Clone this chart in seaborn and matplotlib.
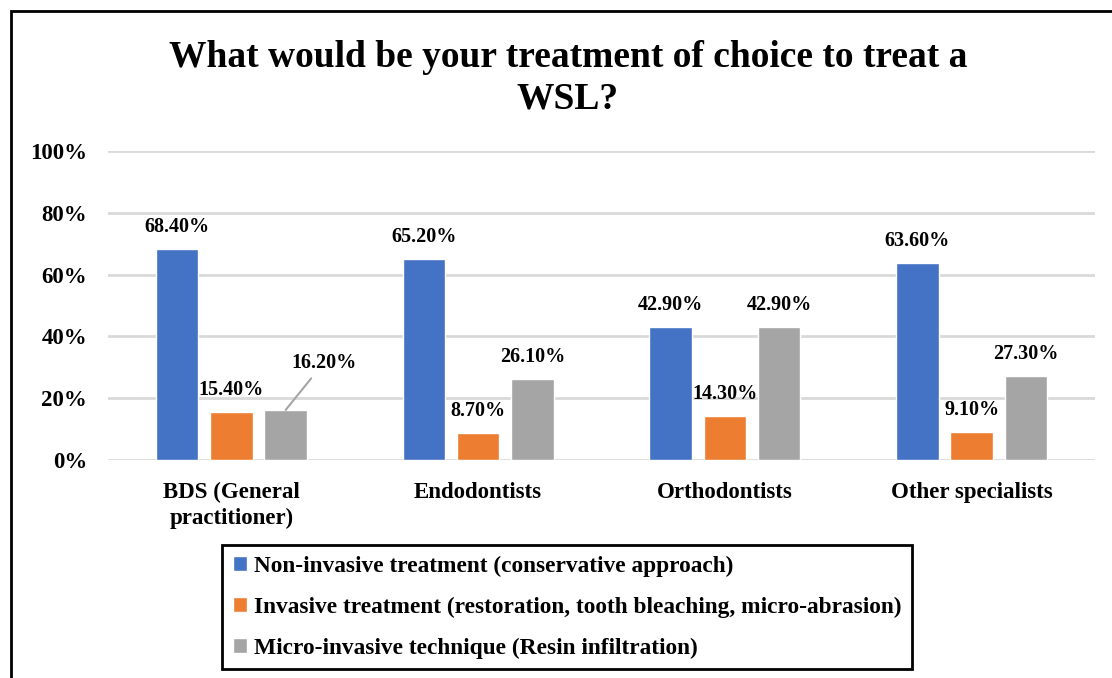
import matplotlib
matplotlib.use("Agg")
import matplotlib.pyplot as plt
import seaborn as sns
import pandas as pd
from matplotlib.patches import Rectangle
from matplotlib.ticker import FuncFormatter

categories = ["BDS (General\npractitioner)", "Endodontists", "Orthodontists", "Other specialists"]
series_names = [
    "Non-invasive treatment (conservative approach)",
    "Invasive treatment (restoration, tooth bleaching, micro-abrasion)",
    "Micro-invasive technique (Resin infiltration)",
]
non_invasive = [68.4, 65.2, 42.9, 63.6]
invasive = [15.4, 8.7, 14.3, 9.1]
micro_invasive = [16.2, 26.1, 42.9, 27.3]
colors = ["#4472C4", "#ED7D31", "#A5A5A5"]
title = "What would be your treatment of choice to treat a\nWSL?"

rows = []
for name, vals in zip(series_names, [non_invasive, invasive, micro_invasive]):
    for c, v in zip(categories, vals):
        rows.append({"Category": c, "Series": name, "Value": v})
df = pd.DataFrame(rows)

sns.set_style("white")
plt.rcParams["font.family"] = ["Liberation Serif", "DejaVu Serif"]
plt.rcParams["font.weight"] = "bold"
plt.rcParams["text.color"] = "black"
plt.rcParams["xtick.color"] = "black"
plt.rcParams["ytick.color"] = "black"

W, H = 1112, 678
fig = plt.figure(figsize=(W / 100, H / 100), dpi=100)
ax = fig.add_axes([108 / W, 1 - 460 / H, (1095 - 108) / W, 309 / H])

sns.barplot(data=df, x="Category", y="Value", hue="Series", hue_order=series_names,
            order=categories, palette=colors, width=0.66, gap=0.22, saturation=1,
            ax=ax, legend=True)

ax.set_ylim(0, 100)
ax.set_xlim(-0.5, 3.5)
ax.set_yticks([0, 20, 40, 60, 80, 100])
ax.yaxis.set_major_formatter(FuncFormatter(lambda v, p: f"{v:.0f}%"))
ax.yaxis.grid(True, color="#D9D9D9", linewidth=2)
ax.set_axisbelow(True)
for s in ax.spines.values():
    s.set_visible(False)
ax.tick_params(axis="both", length=0, labelsize=16.5, labelcolor="black")
ax.tick_params(axis="y", pad=15)
ax.tick_params(axis="x", pad=16)
for lab in ax.get_xticklabels() + ax.get_yticklabels():
    lab.set_fontweight("bold")
for lab in ax.get_xticklabels():
    lab.set_linespacing(1.3)
ax.set_xlabel("")
ax.set_ylabel("")

for si, cont in enumerate(ax.containers):
    for bi, bar in enumerate(cont):
        v = bar.get_height()
        x = bar.get_x() + bar.get_width() / 2
        label = f"{v:.2f}%"
        if si == 2 and bi == 0:
            ax.annotate(label, xy=(x, v), xytext=(38, 47), textcoords="offset pixels",
                        ha="center", va="center", fontsize=14.5, fontweight="bold",
                        color="black",
                        arrowprops=dict(arrowstyle="-", color="#A5A5A5", lw=1.5,
                                        shrinkA=2, shrinkB=0))
        else:
            ax.annotate(label, xy=(x, v), xytext=(0, 12), textcoords="offset pixels",
                        ha="center", va="bottom", fontsize=14.5, fontweight="bold",
                        color="black")

leg = ax.legend(loc="upper left", bbox_to_anchor=(222 / W, 1 - 545 / H),
                bbox_transform=fig.transFigure, frameon=True, fancybox=False,
                framealpha=1,
                prop={"size": 16.8, "weight": "bold"}, handlelength=0.6, handleheight=0.6,
                handletextpad=0.3, labelspacing=0.85, borderpad=0.45, borderaxespad=0)
leg.get_frame().set_edgecolor("black")
leg.get_frame().set_linewidth(2)
for t in leg.get_texts():
    t.set_color("black")

fig.text(568 / W, 1 - 78 / H, title, ha="center", va="center", fontsize=27,
         fontweight="bold", linespacing=1.25, color="black")

fig.patches.append(Rectangle((11 / W, -0.1), 1.2, 1 - 11 / H + 0.1, transform=fig.transFigure,
                             fill=False, edgecolor="black", linewidth=2))

fig.savefig("out.png", dpi=100)
